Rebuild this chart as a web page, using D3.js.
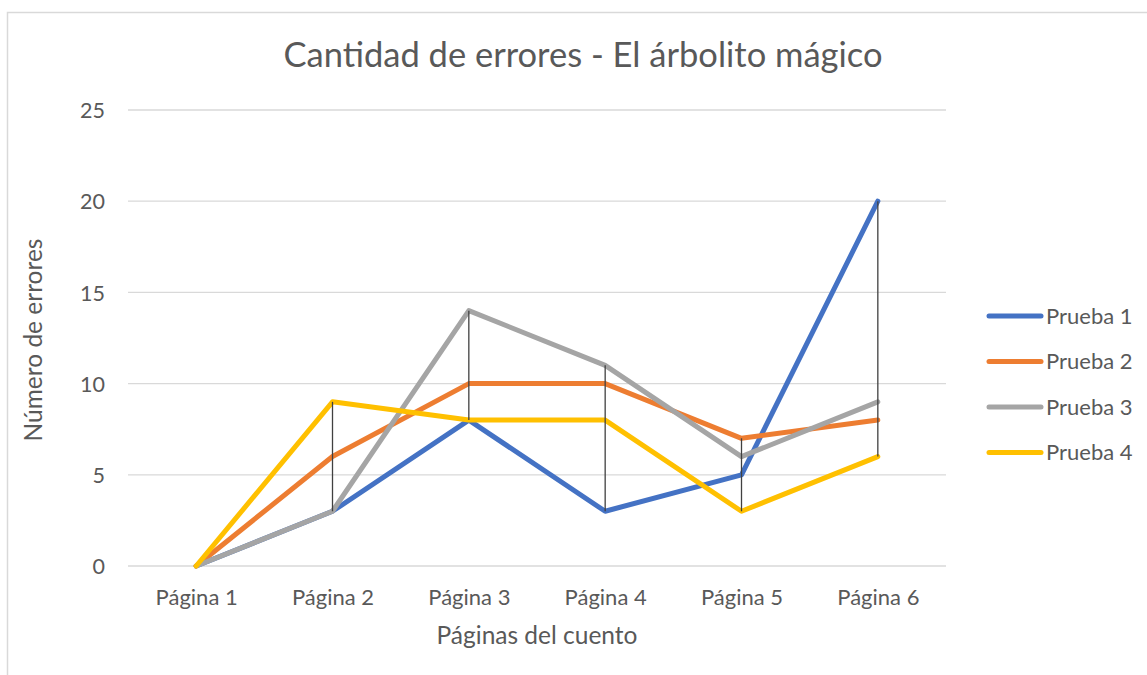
<!DOCTYPE html>
<html>
<head>
<meta charset="utf-8">
<script src="https://cdn.jsdelivr.net/npm/d3@7"></script>
<style>
  html, body { margin: 0; padding: 0; background: #fff; }
  svg { display: block; }
  text { font-family: Lato, "Open Sans", sans-serif; fill: #595959; }
</style>
</head>
<body>
<svg id="chart" width="1147" height="675"></svg>
<script>
// Chart content
const title = "Cantidad de errores - El árbolito mágico";
const xTitle = "Páginas del cuento";
const yTitle = "Número de errores";
const categories = ["Página 1", "Página 2", "Página 3", "Página 4", "Página 5", "Página 6"];
const seriesNames = ["Prueba 1", "Prueba 2", "Prueba 3", "Prueba 4"];
const prueba1 = [0, 3, 8, 3, 5, 20];
const prueba2 = [0, 6, 10, 10, 7, 8];
const prueba3 = [0, 3, 14, 11, 6, 9];
const prueba4 = [0, 9, 8, 8, 3, 6];
const yTicks = [0, 5, 10, 15, 20, 25];
const seriesColors = ["#4472C4", "#ED7D31", "#A5A5A5", "#FFC000"];

const allSeries = [prueba1, prueba2, prueba3, prueba4];

const svg = d3.select("#chart");
const W = 1147, H = 675;
const plot = { left: 128, right: 946, top: 110, bottom: 566 };

// Outer chart frame (top and left edges visible)
svg.append("path")
  .attr("d", `M7.5,${H} V12.5 H${W}`)
  .attr("fill", "none")
  .attr("stroke", "#D9D9D9")
  .attr("stroke-width", 1.5);

const x = d3.scalePoint().domain(categories).range([plot.left, plot.right]).padding(0.5);
const y = d3.scaleLinear().domain([0, 25]).range([plot.bottom, plot.top]);

// Horizontal gridlines
svg.append("g")
  .selectAll("line")
  .data(yTicks)
  .join("line")
  .attr("x1", plot.left).attr("x2", plot.right)
  .attr("y1", d => y(d)).attr("y2", d => y(d))
  .attr("stroke", "#D9D9D9")
  .attr("stroke-width", 1.3);

// Y axis labels
const yAxis = d3.axisLeft(y).tickValues(yTicks).tickSize(0).tickPadding(0);
const gy = svg.append("g").attr("transform", `translate(105,0)`).call(yAxis);
gy.select(".domain").remove();
gy.selectAll("text")
  .attr("font-size", 21.5)
  .attr("font-family", "Lato, sans-serif")
  .attr("fill", "#595959")
  .attr("dy", "0.36em");

// X axis labels
const xAxis = d3.axisBottom(x).tickSize(0).tickPadding(0);
const gx = svg.append("g").attr("transform", `translate(0,${plot.bottom + 31})`).call(xAxis);
gx.select(".domain").remove();
gx.selectAll("text")
  .attr("font-size", 22)
  .attr("font-family", "Lato, sans-serif")
  .attr("fill", "#595959")
  .attr("dy", "0.36em");

// Series lines
const line = d3.line()
  .x((d, i) => x(categories[i]))
  .y(d => y(d));

svg.append("g")
  .selectAll("path")
  .data(allSeries)
  .join("path")
  .attr("d", d => line(d))
  .attr("fill", "none")
  .attr("stroke", (d, i) => seriesColors[i])
  .attr("stroke-width", 5)
  .attr("stroke-linecap", "round")
  .attr("stroke-linejoin", "round");

// High-low lines spanning the series at each page
const hiLo = categories.map((c, i) => {
  const vals = allSeries.map(s => s[i]);
  return { c, lo: d3.min(vals), hi: d3.max(vals) };
}).filter(d => d.hi > d.lo);

svg.append("g")
  .selectAll("line")
  .data(hiLo)
  .join("line")
  .attr("x1", d => x(d.c)).attr("x2", d => x(d.c))
  .attr("y1", d => y(d.lo)).attr("y2", d => y(d.hi))
  .attr("stroke", "#404040")
  .attr("stroke-width", 1.3);

// Title
svg.append("text")
  .attr("x", 583).attr("y", 55)
  .attr("text-anchor", "middle")
  .attr("dy", "0.36em")
  .attr("font-size", 34.5)
  .text(title);

// Axis titles
svg.append("text")
  .attr("x", 537).attr("y", 635)
  .attr("text-anchor", "middle")
  .attr("dy", "0.36em")
  .attr("font-size", 24.5)
  .text(xTitle);

svg.append("text")
  .attr("transform", "translate(33,340) rotate(-90)")
  .attr("text-anchor", "middle")
  .attr("dy", "0.36em")
  .attr("font-size", 24.5)
  .text(yTitle);

// Legend
const legend = svg.append("g")
  .selectAll("g")
  .data(seriesNames)
  .join("g")
  .attr("transform", (d, i) => `translate(0,${316 + i * 45.5})`);

legend.append("line")
  .attr("x1", 989).attr("x2", 1041)
  .attr("y1", 0).attr("y2", 0)
  .attr("stroke", (d, i) => seriesColors[i])
  .attr("stroke-width", 5)
  .attr("stroke-linecap", "round");

legend.append("text")
  .attr("x", 1046).attr("y", 0)
  .attr("dy", "0.36em")
  .attr("font-size", 22)
  .text(d => d);
</script>
</body>
</html>
